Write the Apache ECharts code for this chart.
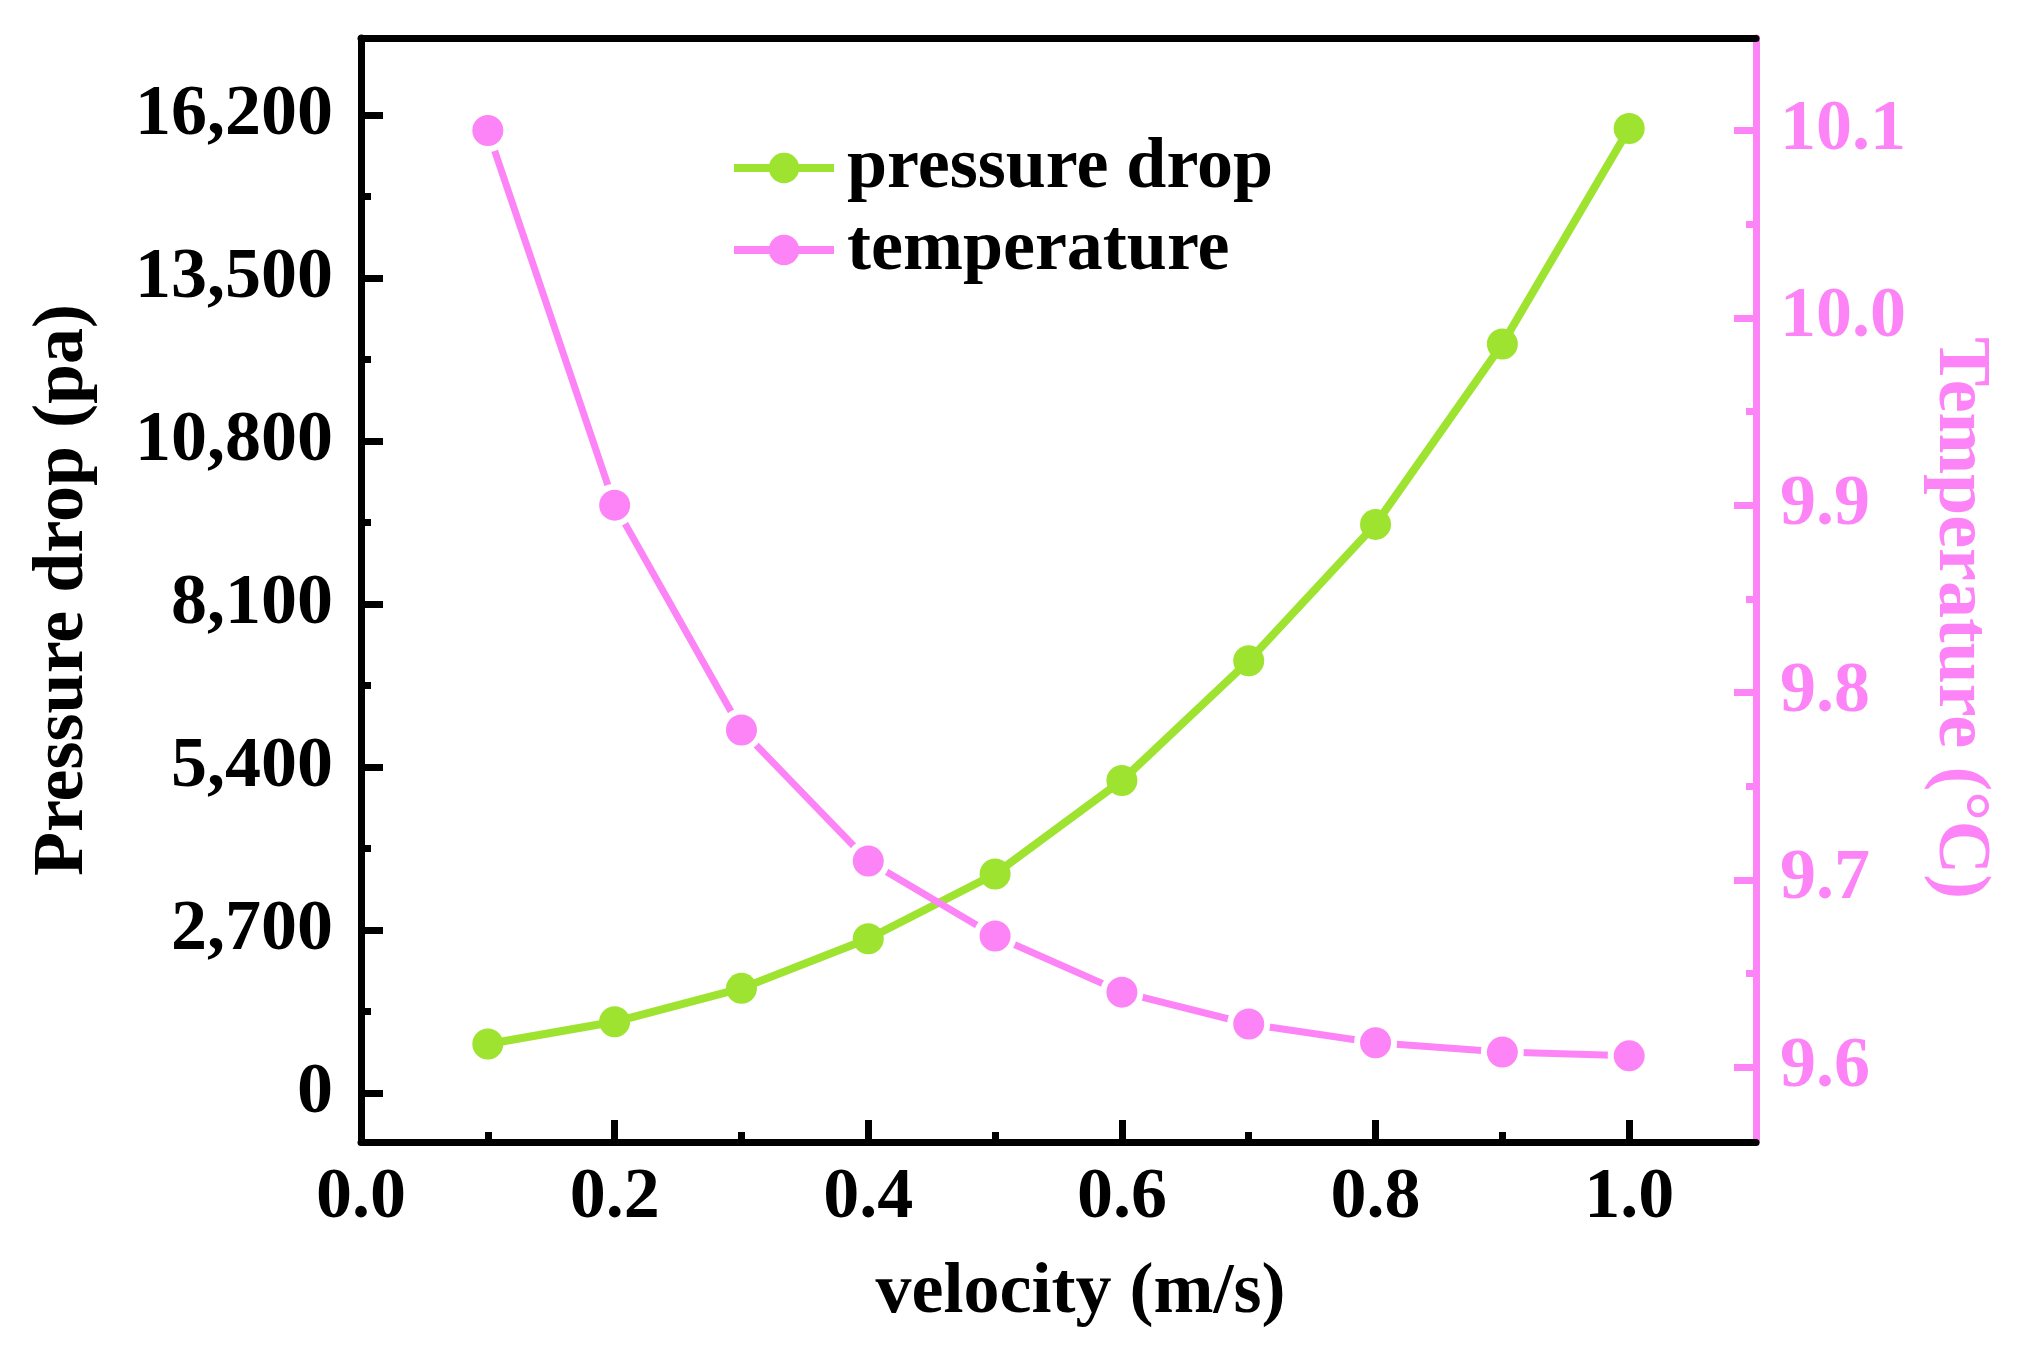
<!DOCTYPE html>
<html>
<head>
<meta charset="utf-8">
<script src="https://cdn.jsdelivr.net/npm/echarts@6/dist/echarts.min.js"></script>
<style>
html,body{margin:0;padding:0;background:#fff;}
#chart{width:2019px;height:1371px;}
</style>
</head>
<body>
<div id="chart"></div>
<script>
const velocity = [0.1, 0.2, 0.3, 0.4, 0.5, 0.6, 0.7, 0.8, 0.9, 1.0];
const pressureDrop = [812, 1179, 1733, 2554, 3628, 5176, 7159, 9419, 12408, 15977];
const temperature = [10.1, 9.90, 9.78, 9.71, 9.67, 9.64, 9.623, 9.613, 9.608, 9.606];
const xTickLabels = [0, 0.2, 0.4, 0.6, 0.8, 1.0];
const xMinorTicks = [0.1, 0.3, 0.5, 0.7, 0.9];
const leftTickLabels = [0, 2700, 5400, 8100, 10800, 13500, 16200];
const leftMinorTicks = [1350, 4050, 6750, 9450, 12150, 14850];
const rightTickLabels = [9.6, 9.7, 9.8, 9.9, 10.0, 10.1];
const rightMinorTicks = [9.65, 9.75, 9.85, 9.95, 10.05];
const seriesNames = ['pressure drop', 'temperature'];
const xName = 'velocity (m/s)';
const leftName = 'Pressure drop (pa)';
const rightName = 'Temperature (°C)';

const GREEN = '#9ee330';
const PINK = '#fd84f7';
const FONT = "'Liberation Serif','Times New Roman',serif";

const X_MIN = 0, X_MAX = 1.1;
const L_MIN = -812, L_MAX = 17476;
const R_MIN = 9.56, R_MAX = 10.1494;

const chart = echarts.init(document.getElementById('chart'), null, {renderer: 'canvas'});

const hidden = {show: false};
const option = {
  backgroundColor: '#fff',
  animation: false,
  grid: {left: 361, right: 263, top: 38, bottom: 229, containLabel: false},
  legend: {
    left: 725, top: 127, orient: 'vertical',
    itemWidth: 100, itemHeight: 38, itemGap: 10,
    textStyle: {fontFamily: FONT, fontWeight: 'bold', fontSize: 72, color: '#000', lineHeight: 72, padding: [0, 0, 0, 8]},
    itemStyle: {borderWidth: 0},
    lineStyle: {width: 8},
    data: seriesNames
  },
  xAxis: [
    {
      type: 'value', min: X_MIN, max: X_MAX, position: 'bottom',
      axisLine: {show: true, onZero: false, lineStyle: {color: '#000', width: 7}},
      axisTick: {show: true, inside: true, length: 22, lineStyle: {width: 7, color: '#000'}, customValues: xTickLabels},
      axisLabel: {show: true, margin: 20, customValues: xTickLabels, formatter: v => v.toFixed(1),
        fontFamily: FONT, fontWeight: 'bold', fontSize: 72, color: '#000'},
      splitLine: hidden,
      name: xName, nameLocation: 'middle', nameGap: 115,
      nameTextStyle: {fontFamily: FONT, fontWeight: 'bold', fontSize: 72, color: '#000', padding: [0, 0, 0, 44]}
    },
    {
      type: 'value', min: X_MIN, max: X_MAX, position: 'bottom',
      axisLine: {show: false, onZero: false},
      axisTick: {show: true, inside: true, length: 10, lineStyle: {width: 7, color: '#000'}, customValues: xMinorTicks},
      axisLabel: hidden, splitLine: hidden
    },
    {
      type: 'value', min: X_MIN, max: X_MAX, position: 'top',
      axisLine: {show: true, onZero: false, lineStyle: {color: '#000', width: 7}},
      axisTick: hidden, axisLabel: hidden, splitLine: hidden
    }
  ],
  yAxis: [
    {
      type: 'value', min: L_MIN, max: L_MAX, position: 'left',
      axisLine: {show: true, onZero: false, lineStyle: {color: '#000', width: 7}},
      axisTick: {show: true, inside: true, length: 22, lineStyle: {width: 7, color: '#000'}, customValues: leftTickLabels},
      axisLabel: {show: true, margin: 28, customValues: leftTickLabels,
        formatter: v => Math.round(v).toLocaleString('en-US'),
        fontFamily: FONT, fontWeight: 'bold', fontSize: 72, color: '#000'},
      splitLine: hidden,
      name: leftName, nameLocation: 'middle', nameGap: 262, nameRotate: 90,
      nameTextStyle: {fontFamily: FONT, fontWeight: 'bold', fontSize: 72, color: '#000'}
    },
    {
      type: 'value', min: R_MIN, max: R_MAX, position: 'right',
      axisLine: {show: true, onZero: false, lineStyle: {color: PINK, width: 7}},
      axisTick: {show: true, inside: true, length: 22, lineStyle: {width: 7, color: PINK}, customValues: rightTickLabels},
      axisLabel: {show: true, margin: 24, customValues: rightTickLabels, formatter: v => v.toFixed(1),
        fontFamily: FONT, fontWeight: 'bold', fontSize: 72, color: PINK},
      splitLine: hidden,
      name: rightName, nameLocation: 'middle', nameGap: 166, nameRotate: -90,
      nameTextStyle: {fontFamily: FONT, fontWeight: 'bold', fontSize: 74, color: PINK, padding: [0, 0, 0, 56]}
    },
    {
      type: 'value', min: L_MIN, max: L_MAX, position: 'left',
      axisLine: {show: false, onZero: false},
      axisTick: {show: true, inside: true, length: 10, lineStyle: {width: 7, color: '#000'}, customValues: leftMinorTicks},
      axisLabel: hidden, splitLine: hidden
    },
    {
      type: 'value', min: R_MIN, max: R_MAX, position: 'right',
      axisLine: {show: false, onZero: false},
      axisTick: {show: true, inside: true, length: 10, lineStyle: {width: 7, color: PINK}, customValues: rightMinorTicks},
      axisLabel: hidden, splitLine: hidden
    }
  ],
  series: [
    {
      name: seriesNames[0], type: 'line', xAxisIndex: 0, yAxisIndex: 0,
      data: velocity.map((v, i) => [v, pressureDrop[i]]),
      symbol: 'circle', symbolSize: 31, showAllSymbol: true,
      lineStyle: {color: GREEN, width: 8},
      itemStyle: {color: GREEN, borderWidth: 0},
      z: 3
    },
    {
      name: seriesNames[1], type: 'line', xAxisIndex: 0, yAxisIndex: 1,
      data: velocity.map((v, i) => [v, temperature[i]]),
      symbol: 'circle', symbolSize: 37, showAllSymbol: true,
      lineStyle: {color: PINK, width: 7},
      itemStyle: {color: PINK, borderColor: '#fff', borderWidth: 6},
      z: 4
    }
  ]
};
chart.setOption(option);
</script>
</body>
</html>
